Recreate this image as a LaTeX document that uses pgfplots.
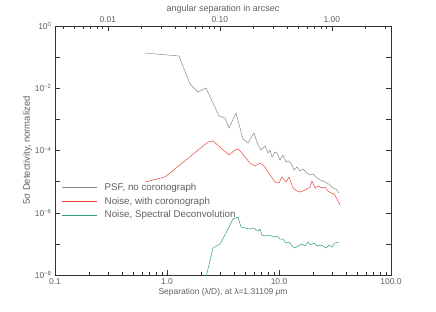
\documentclass[border=0pt]{standalone}
\usepackage{fontspec}
\setmainfont{Liberation Sans}
\usepackage{pgfplots}
\pgfplotsset{compat=1.18}
\definecolor{txt}{HTML}{606060}
\definecolor{psfgray}{HTML}{8A8A8A}
\definecolor{noisered}{HTML}{E8453C}
\definecolor{sdgreen}{HTML}{2E9E7E}
\pgfplotsset{
  limg/.style={legend image code/.code={\draw[draw=#1, draw opacity=1, line width=0.5pt] (0bp,0bp) -- (35bp,0bp); \path (40bp,0bp);}}
}
\begin{document}
\begin{tikzpicture}
\path[use as bounding box] (-55bp,-37bp) rectangle (381bp,275bp);
\begin{axis}[at={(0,0)}, anchor=south west, scale only axis,
  width=336bp, height=249bp,
  xmode=log, ymode=log, xmin=0.1, xmax=100, ymin=1e-8, ymax=1,
  xtick={0.1,1,10,100}, xticklabels={0.1,1.0,10.0,100.0},
  minor xtick={0.2,0.3,0.4,0.5,0.6,0.7,0.8,0.9,2,3,4,5,6,7,8,9,20,30,40,50,60,70,80,90},
  ytick={1,1e-2,1e-4,1e-6,1e-8},
  yticklabels={10\textsuperscript{0},10\textsuperscript{−2},10\textsuperscript{−4},10\textsuperscript{−6},10\textsuperscript{−8}},
  extra y ticks={1e-1,1e-3,1e-5,1e-7}, extra y tick labels={},
  xtick pos=bottom, ytick pos=both, tick align=inside,
  major tick length=5bp, minor tick length=3bp,
  axis line style={black!80, line width=0.5pt},
  tick style={black!80, line width=0.4pt},
  tick label style={font=\fontsize{8.5}{10}\selectfont, text=txt},
  label style={text=txt},
  xlabel={Separation (λ/D), at λ=1.31109 \textit{μ}m},
  ylabel={5σ Detectivity, normalized},
  xlabel style={font=\fontsize{8.5}{10}\selectfont, yshift=3bp},
  ylabel style={font=\fontsize{9.5}{11}\selectfont, yshift=-4bp},
  legend style={draw=none, fill=none, at={(0.012,0.385)}, anchor=north west,
    font=\fontsize{9.8}{11}\selectfont, row sep=1.2bp,
    cells={anchor=west}},
  every axis plot/.append style={line width=0.5pt},
]
\addplot[color=psfgray, limg=psfgray] coordinates {
(0.636,0.1357) (1.280,0.1087) (1.605,0.01369) (1.892,0.00758) (2.230,0.01019)
(2.912,0.001284) (3.295,0.001107) (3.577,5.28e-4) (4.131,0.001602) (4.770,2.342e-4)
(5.287,1.742e-4) (5.980,3.65e-4) (6.494,1.502e-4) (6.908,1.038e-4) (7.499,1.395e-4)
(7.977,8.31e-5) (8.31,1.038e-4) (8.66,6.18e-5) (9.21,8.95e-5) (9.60,8.31e-5)
(10.21,4.95e-5) (10.86,7.17e-5) (11.55,4.27e-5) (12.29,4.60e-5) (13.07,3.42e-5)
(13.61,2.36e-5) (14.48,2.95e-5) (15.40,2.20e-5) (16.38,2.54e-5) (17.78,1.89e-5)
(18.92,1.63e-5) (20.12,1.76e-5) (21.40,1.41e-5) (23.23,1.13e-5) (24.71,1.047e-5)
(26.83,9.03e-6) (28.53,7.79e-6) (30.35,6.24e-6) (32.28,5.79e-6) (34.34,4.31e-6)
};
\addlegendentry{\textcolor{txt}{PSF, no coronograph}}
\addplot[color=noisered, limg=noisered] coordinates {
(0.636,9.72e-6) (0.960,1.41e-5) (2.323,1.875e-4) (2.575,2.02e-4) (3.577,7.17e-5)
(4.047,1.038e-4) (4.304,1.117e-4) (4.673,8.31e-5) (4.971,6.18e-5) (5.509,3.97e-5)
(6.105,3.18e-5) (6.767,3.97e-5) (7.499,2.95e-5) (8.31,1.63e-5) (9.21,9.72e-6)
(10.0,9.03e-6) (10.64,1.41e-5) (11.55,9.72e-6) (12.29,1.41e-5) (13.34,6.24e-6)
(14.48,5.0e-6) (15.40,4.64e-6) (16.38,5.0e-6) (17.78,5.79e-6) (18.92,6.72e-6)
(19.71,1.047e-5) (20.96,6.24e-6) (22.30,7.23e-6) (24.20,6.24e-6) (25.74,6.72e-6)
(27.38,5.0e-6) (29.13,4.31e-6) (30.99,4.0e-6) (32.96,2.77e-6) (35.05,1.77e-6)
};
\addlegendentry{\textcolor{txt}{Noise, with coronograph}}
\addplot[color=sdgreen, limg=sdgreen] coordinates {
(2.096,3.3e-9) (2.575,7.37e-8) (2.973,9.9e-8) (3.365,2.24e-7) (3.885,6.30e-7)
(4.304,7.30e-7) (4.579,3.48e-7) (4.971,3.24e-7) (5.509,3.0e-7) (5.862,3.24e-7)
(6.494,2.59e-7) (6.767,3.0e-7) (7.05,1.93e-7) (7.499,1.79e-7) (8.31,1.93e-7)
(8.84,1.66e-7) (9.60,1.79e-7) (10.21,1.43e-7) (10.86,1.43e-7) (11.55,1.07e-7)
(12.29,1.15e-7) (13.07,8.54e-8) (13.90,7.37e-8) (14.78,8.54e-8) (16.05,9.9e-8)
(17.07,8.54e-8) (18.16,1.15e-7) (19.31,9.2e-8) (20.54,1.07e-7) (21.84,8.54e-8)
(23.23,9.2e-8) (24.71,8.54e-8) (26.28,7.37e-8) (27.95,9.2e-8) (29.73,7.94e-8)
(31.62,1.07e-7) (34.34,1.15e-7)
};
\addlegendentry{\textcolor{txt}{Noise, Spectral Deconvolution}}
\end{axis}
\begin{axis}[at={(0,0)}, anchor=south west, scale only axis,
  width=336bp, height=249bp,
  xmode=log, xmin=0.00338, xmax=3.38, ymin=0, ymax=1,
  axis x line*=top, axis y line=none,
  xtick={0.01,0.1,1}, xticklabels={0.01,0.10,1.00},
  minor xtick={0.004,0.005,0.006,0.007,0.008,0.009,0.02,0.03,0.04,0.05,0.06,0.07,0.08,0.09,0.2,0.3,0.4,0.5,0.6,0.7,0.8,0.9,2,3},
  tick align=inside, major tick length=5bp, minor tick length=3bp,
  x axis line style={-, black!80, line width=0.5pt},
  tick style={black!80, line width=0.4pt},
  tick label style={font=\fontsize{8.5}{10}\selectfont, text=txt},
  xlabel={angular separation in arcsec},
  xlabel style={font=\fontsize{9}{11}\selectfont, text=txt, yshift=-4bp},
]
\end{axis}
\end{tikzpicture}
\end{document}
